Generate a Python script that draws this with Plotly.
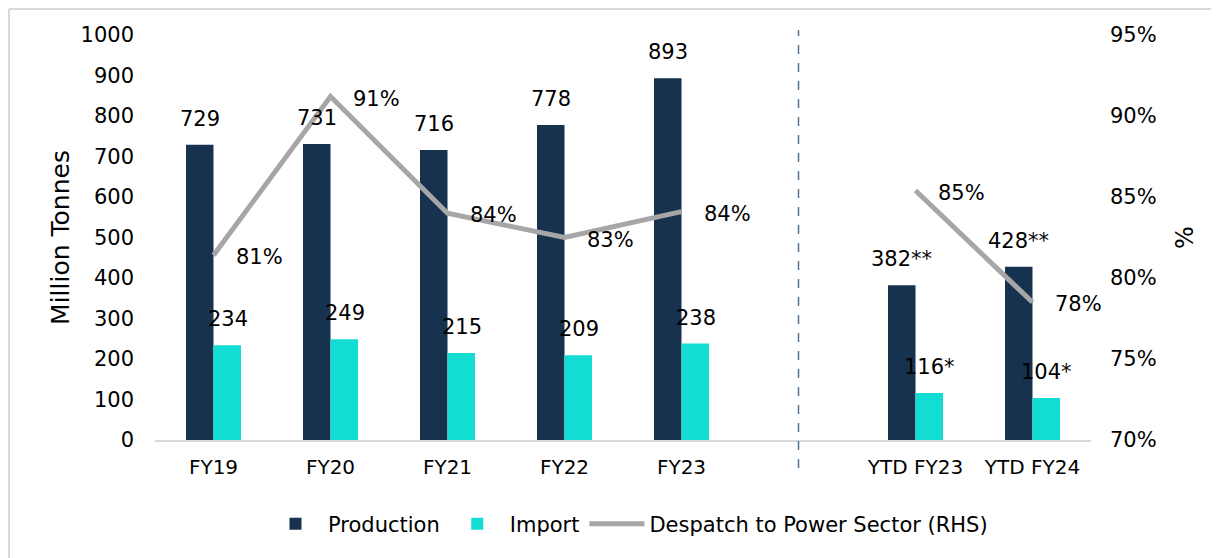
import plotly.graph_objects as go

categories = ["FY19", "FY20", "FY21", "FY22", "FY23", " ", "YTD FY23", "YTD FY24"]
production = [729, 731, 716, 778, 893, None, 382, 428]
production_labels = ["729", "731", "716", "778", "893", "", "382**", "428**"]
imports = [234, 249, 215, 209, 238, None, 116, 104]
import_labels = ["234", "249", "215", "209", "238", "", "116*", "104*"]
despatch = [81.4, 91.2, 84.0, 82.5, 84.1, None, 85.4, 78.5]
despatch_labels = ["81%", "91%", "84%", "83%", "84%", "", "85%", "78%"]

left_ticks = list(range(0, 1001, 100))
right_ticks = [70, 75, 80, 85, 90, 95]
right_tick_text = ["70%", "75%", "80%", "85%", "90%", "95%"]

C_PROD = "#17324f"
C_IMP = "#13ddd3"
C_LINE = "#a6a6a6"
FONT = "DejaVu Sans"

# page has an 8px body margin; work in page pixels and convert
OFF = 8
PAGE_W, PAGE_H = 1219, 558
W, H = PAGE_W - OFF, PAGE_H - OFF
PL, PR, PT, PB = 155, 1091, 35, 440  # plot area in page pixels
L, T = PL - OFF, PT - OFF
R, B = W - (PR - OFF), H - (PB - OFF)
PW, PH = PR - PL, PB - PT


def px2x(px):
    return (px - PL) / PW


def px2y(py):
    return (PB - py) / PH


fig = go.Figure()
fig.add_trace(go.Bar(x=categories, y=production, name="Production",
                     marker=dict(color=C_PROD, line=dict(width=0)), yaxis="y"))
fig.add_trace(go.Bar(x=categories, y=imports, name="Import",
                     marker=dict(color=C_IMP, line=dict(width=0)), yaxis="y"))
fig.add_trace(go.Scatter(x=categories, y=despatch, name="Despatch to Power Sector (RHS)",
                         mode="lines", line=dict(color=C_LINE, width=5),
                         connectgaps=False, yaxis="y2"))

annotations = []
for c, v, t in zip(categories, production, production_labels):
    if v is not None:
        annotations.append(dict(x=c, y=v, xref="x", yref="y", text=t, showarrow=False,
                                xshift=-14, yshift=26, yanchor="middle",
                                font=dict(size=21, color="black", family=FONT)))
for c, v, t in zip(categories, imports, import_labels):
    if v is not None:
        annotations.append(dict(x=c, y=v, xref="x", yref="y", text=t, showarrow=False,
                                xshift=14, yshift=26, yanchor="middle",
                                font=dict(size=21, color="black", family=FONT)))
for c, v, t in zip(categories, despatch, despatch_labels):
    if v is not None:
        annotations.append(dict(x=c, y=v, xref="x", yref="y2", text=t, showarrow=False,
                                xshift=46, yshift=-2, yanchor="middle",
                                font=dict(size=21, color="black", family=FONT)))

shapes = [
    # divider between annual and YTD data
    dict(type="line", xref="x", yref="paper", x0=" ", x1=" ",
         y0=px2y(468), y1=px2y(30), line=dict(color="#4f7196", width=1.5, dash="dash")),
    # outer frame (left and top)
    dict(type="line", xref="paper", yref="paper", x0=px2x(9), x1=px2x(9),
         y0=px2y(PAGE_H + 5), y1=px2y(9), line=dict(color="#d9d9d9", width=2)),
    dict(type="line", xref="paper", yref="paper", x0=px2x(9), x1=px2x(PAGE_W + 5),
         y0=px2y(9), y1=px2y(9), line=dict(color="#d9d9d9", width=2)),
]

fig.update_layout(
    width=W, height=H,
    margin=dict(l=L, r=R, t=T, b=B, autoexpand=False),
    paper_bgcolor="white", plot_bgcolor="white",
    font=dict(family=FONT, size=20, color="black"),
    barmode="group", bargap=0.53, bargroupgap=0,
    showlegend=True,
    legend=dict(orientation="h", x=px2x(628), xanchor="center", y=px2y(524), yanchor="middle",
                font=dict(size=21, family=FONT), itemwidth=55, traceorder="normal",
                bgcolor="rgba(0,0,0,0)"),
    xaxis=dict(type="category", categoryorder="array", categoryarray=categories,
               showgrid=False, showline=True, linecolor="#d9d9d9", linewidth=2,
               ticks="", tickfont=dict(size=20, family=FONT), ticklabelstandoff=8,
               range=[-0.5, len(categories) - 0.5], fixedrange=True),
    yaxis=dict(range=[0, 1000], tickvals=left_ticks, showgrid=False, zeroline=False,
               showline=False, ticks="", tickfont=dict(size=21, family=FONT),
               ticklabelstandoff=20,
               title=dict(text="Million Tonnes", font=dict(size=25, family=FONT), standoff=3)),
    yaxis2=dict(range=[70, 95], tickvals=right_ticks, ticktext=right_tick_text,
                overlaying="y", side="right", showgrid=False, zeroline=False, showline=False,
                ticks="", tickfont=dict(size=21, family=FONT), ticklabelstandoff=18,
                title=dict(text="%", font=dict(size=24, family=FONT), standoff=20)),
    annotations=annotations,
    shapes=shapes,
)

fig.write_html("out.html")
